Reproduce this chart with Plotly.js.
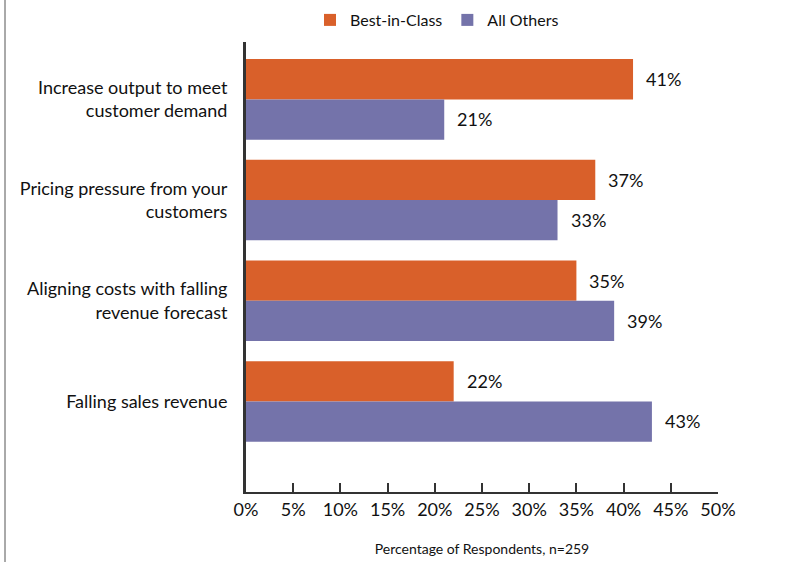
<!DOCTYPE html>
<html><head><meta charset="utf-8">
<script src="https://cdn.plot.ly/plotly-3.0.1.min.js"></script>
<style>html,body{margin:0;padding:0;background:#fff}#c{width:796px;height:562px}</style>
</head><body><div id="c"></div>
<script>
const categories = ["Increase output to meet<br>customer demand","Pricing pressure from your<br>customers","Aligning costs with falling<br>revenue forecast","Falling sales revenue"];
const bestInClass = [41, 37, 35, 22];
const allOthers = [21, 33, 39, 43];
const seriesNames = ["Best-in-Class", "All Others"];
const xTicks = [0,5,10,15,20,25,30,35,40,45,50];
const xTickLabels = xTicks.map(v => v + "%");

const FONT = "Lato, Open Sans, sans-serif";
const TXT = '#111';
const traces = [
  {type:'bar', orientation:'h', name:seriesNames[0], y:categories, x:bestInClass, marker:{color:'#D9602A'}, hoverinfo:'none'},
  {type:'bar', orientation:'h', name:seriesNames[1], y:categories, x:allOthers, marker:{color:'#7473AA'}, hoverinfo:'none'}
];
const ann = [];
categories.forEach((c,i)=>{
  ann.push({x:bestInClass[i], y:c, xref:'x', yref:'y', text:bestInClass[i]+'%', showarrow:false, xanchor:'left', xshift:11, yshift:20, font:{size:18,color:TXT,family:FONT}});
  ann.push({x:allOthers[i], y:c, xref:'x', yref:'y', text:allOthers[i]+'%', showarrow:false, xanchor:'left', xshift:11, yshift:-20, font:{size:18,color:TXT,family:FONT}});
});
const layout = {
  width:796, height:562,
  margin:{l:246, r:78, t:42, b:70, autoexpand:false},
  barmode:'group', bargap:0.2, bargroupgap:0,
  paper_bgcolor:'#fff', plot_bgcolor:'#fff',
  font:{family:FONT, color:TXT},
  showlegend:true,
  legend:{orientation:'h', xref:'container', yref:'container', x:0.549, xanchor:'center', y:1-20/562, yanchor:'middle', font:{size:16, color:TXT}, traceorder:'normal'},
  xaxis:{range:[0,50], tickvals:xTicks, ticktext:xTickLabels, showgrid:false, zeroline:false,
    showline:true, linecolor:'#333', linewidth:2, ticks:'inside', ticklen:9, tickwidth:2, tickcolor:'#333',
    tickfont:{size:18, color:TXT}, fixedrange:true,
    title:{text:'Percentage of Respondents, n=259', font:{size:14, color:TXT}, standoff:26}},
  yaxis:{type:'category', range:[3.9,-0.57], showgrid:false, zeroline:false, showline:true, linecolor:'#333', linewidth:3,
    ticks:'', ticklabelstandoff:12, tickfont:{size:18, color:TXT}, fixedrange:true},
  annotations:ann,
  shapes:[{type:'line', xref:'paper', yref:'paper', x0:(5-246)/472, x1:(5-246)/472, y0:-70/450, y1:1+42/450, line:{color:'#555', width:1}}]
};
Plotly.newPlot('c', traces, layout, {displayModeBar:false, staticPlot:true});
</script></body></html>
